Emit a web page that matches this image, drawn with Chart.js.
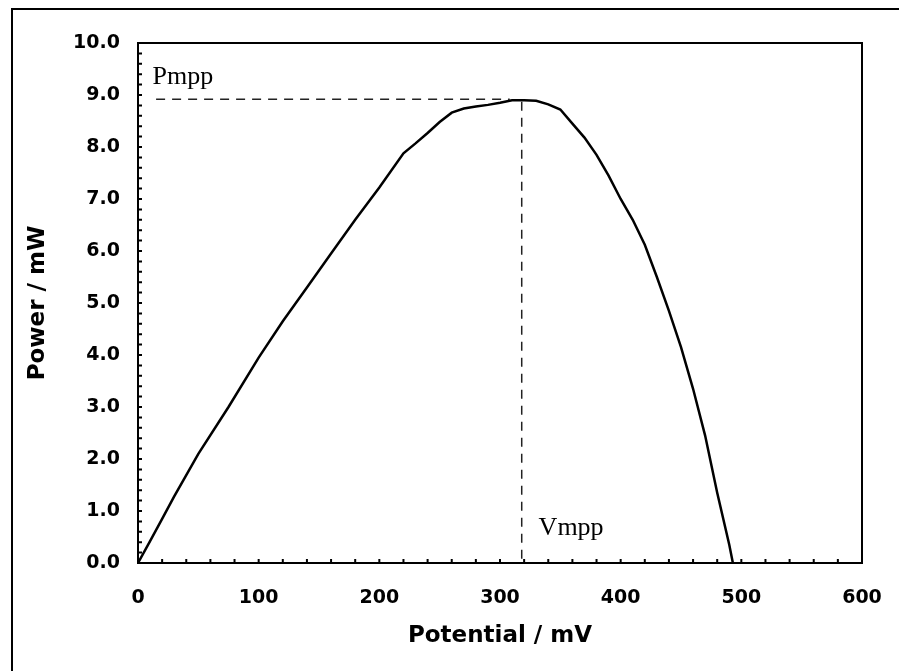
<!DOCTYPE html>
<html>
<head>
<meta charset="utf-8">
<script src="https://cdn.jsdelivr.net/npm/chart.js@4.4.1/dist/chart.umd.min.js"></script>
<style>
  html, body { margin: 0; padding: 0; background: #fff; }
  #wrap { width: 899px; height: 671px; position: relative; }
</style>
</head>
<body>
<div id="wrap"><canvas id="powerChart"></canvas></div>
<script>
// Potential (mV) and power (mW)
const potential = [0, 10, 20, 30, 50, 75, 100, 120, 140, 160, 180, 200, 220, 230, 240, 250,
  260, 270, 280, 290, 300, 310, 320, 330, 340, 350, 360, 370, 380, 390, 400, 410,
  420, 430, 440, 450, 460, 470, 480, 490, 493];
const power = [0, 0.42, 0.85, 1.28, 2.1, 3.0, 3.95, 4.65, 5.3, 5.95, 6.6, 7.22, 7.88, 8.07, 8.27, 8.48,
  8.66, 8.74, 8.78, 8.81, 8.85, 8.9, 8.9, 8.89, 8.82, 8.72, 8.45, 8.18, 7.85, 7.45, 7.0, 6.6,
  6.12, 5.5, 4.85, 4.15, 3.35, 2.45, 1.35, 0.35, 0];

// maximum power point
const pmpp = 8.92;
const vmpp = 318;

const xTicks = [0, 100, 200, 300, 400, 500, 600];
const yTicks = [0, 1, 2, 3, 4, 5, 6, 7, 8, 9, 10];

const curvePoints = potential.map((v, i) => ({ x: v, y: power[i] }));

const tickFont = { family: 'DejaVu Sans', weight: 'bold', size: 19 };
const titleFont = { family: 'DejaVu Sans', weight: 'bold', size: 23 };

// frames, inward ticks and the Pmpp / Vmpp labels
const decorPlugin = {
  id: 'decor',
  beforeDraw(chart) {
    const ctx = chart.ctx;
    ctx.save();
    ctx.fillStyle = '#fff';
    ctx.fillRect(0, 0, chart.width, chart.height);
    ctx.strokeStyle = '#000';
    ctx.lineWidth = 2;
    ctx.beginPath();
    ctx.moveTo(12, chart.height);
    ctx.lineTo(12, 9);
    ctx.lineTo(chart.width, 9);
    ctx.stroke();
    ctx.restore();
  },
  afterDatasetsDraw(chart) {
    const ctx = chart.ctx;
    const { left, right, top, bottom } = chart.chartArea;
    const xs = chart.scales.x;
    const ys = chart.scales.y;
    ctx.save();
    ctx.strokeStyle = '#000';
    ctx.lineWidth = 2;
    ctx.strokeRect(left, top, right - left, bottom - top);

    ctx.beginPath();
    for (let v = 0; v <= 600; v += 20) {
      const px = xs.getPixelForValue(v);
      ctx.moveTo(px, bottom);
      ctx.lineTo(px, bottom - 4);
    }
    for (let k = 0; k <= 50; k++) {
      const py = ys.getPixelForValue(k / 5);
      ctx.moveTo(left, py);
      ctx.lineTo(left + 4, py);
    }
    ctx.stroke();

    ctx.fillStyle = '#000';
    ctx.font = '26px "Liberation Serif"';
    ctx.textBaseline = 'middle';
    ctx.textAlign = 'left';
    ctx.fillText('Pmpp', xs.getPixelForValue(12), ys.getPixelForValue(9.35));
    ctx.fillText('Vmpp', xs.getPixelForValue(332), ys.getPixelForValue(0.67));
    ctx.restore();
  }
};

new Chart(document.getElementById('powerChart'), {
  type: 'scatter',
  data: {
    datasets: [
      {
        data: curvePoints,
        showLine: true,
        borderColor: '#000',
        borderWidth: 2.5,
        pointRadius: 0,
        tension: 0
      },
      {
        data: [{ x: 15, y: pmpp }, { x: 308, y: pmpp }],
        showLine: true,
        borderColor: '#222',
        borderWidth: 1.5,
        borderDash: [9, 7],
        pointRadius: 0
      },
      {
        data: [{ x: vmpp, y: pmpp - 0.05 }, { x: vmpp, y: 0 }],
        showLine: true,
        borderColor: '#222',
        borderWidth: 1.5,
        borderDash: [9, 7],
        pointRadius: 0
      }
    ]
  },
  options: {
    responsive: true,
    maintainAspectRatio: false,
    animation: false,
    layout: { padding: { left: 0, top: 43, right: 37, bottom: 0 } },
    plugins: {
      legend: { display: false },
      tooltip: { enabled: false }
    },
    scales: {
      x: {
        type: 'linear',
        min: 0,
        max: 600,
        afterBuildTicks(scale) { scale.ticks = xTicks.map(v => ({ value: v })); },
        afterFit(scale) {
          scale.height = 108;
          scale.paddingRight = 0;
          scale.paddingLeft = 0;
        },
        grid: { display: false, drawTicks: false },
        border: { display: false },
        ticks: { color: '#000', font: tickFont, padding: 24, maxRotation: 0 },
        title: {
          display: true,
          text: 'Potential / mV',
          color: '#000',
          font: titleFont,
          padding: { top: 0, bottom: 21 }
        }
      },
      y: {
        type: 'linear',
        min: 0,
        max: 10,
        afterBuildTicks(scale) { scale.ticks = yTicks.map(v => ({ value: v })); },
        afterFit(scale) {
          scale.width = 138;
          scale.paddingTop = 0;
          scale.paddingBottom = 0;
        },
        grid: { display: false, drawTicks: false },
        border: { display: false },
        ticks: {
          color: '#000',
          font: tickFont,
          padding: 18,
          callback: v => v.toFixed(1)
        },
        title: {
          display: true,
          text: 'Power / mW',
          color: '#000',
          font: titleFont,
          padding: { top: 24, bottom: 0 }
        }
      }
    }
  },
  plugins: [decorPlugin]
});
</script>
</body>
</html>
